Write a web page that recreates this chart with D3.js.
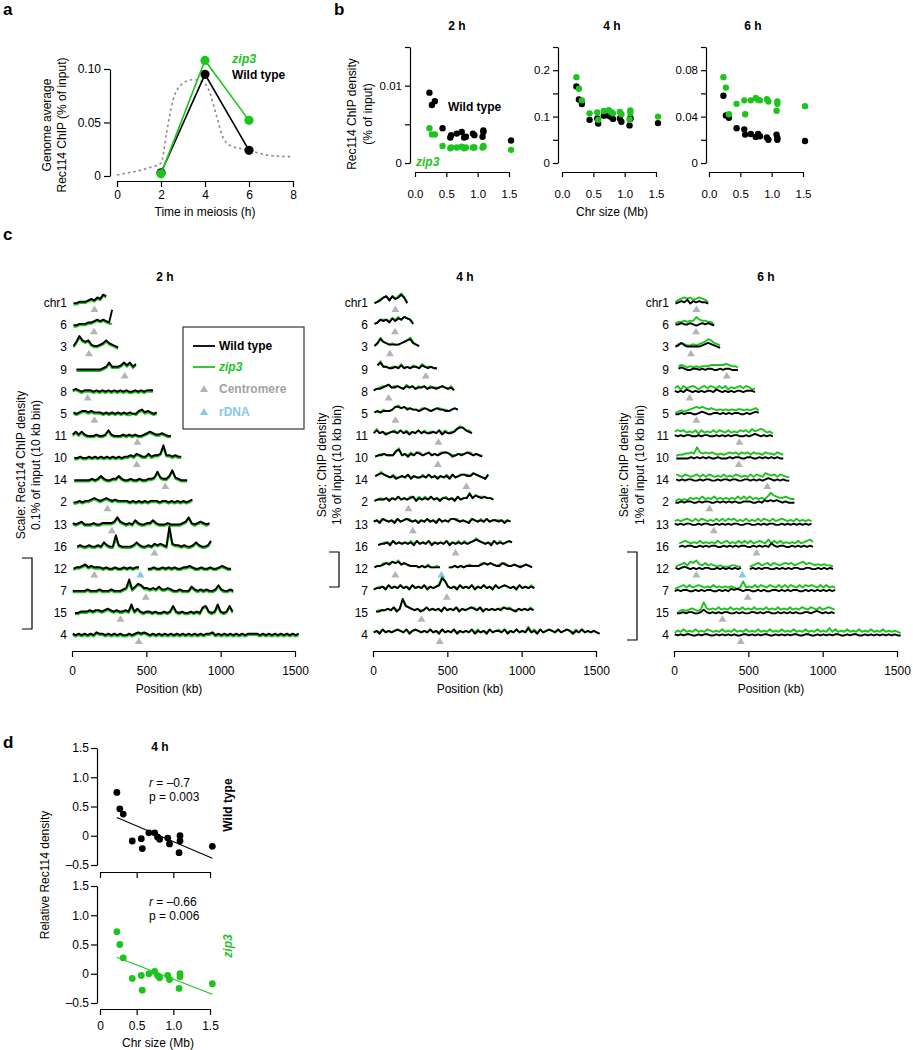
<!DOCTYPE html>
<html><head><meta charset="utf-8">
<script src="https://cdn.jsdelivr.net/npm/d3@7"></script>
<style>body{margin:0;background:#fff}</style>
</head><body>
<svg id="fig" width="913" height="1050"></svg>
<script>
// ---------------- DATA ----------------
// panel a
const timeH = [2, 4, 6];
const aWildType = [0.003, 0.095, 0.024];
const aZip3 = [0.002, 0.108, 0.052];
const aRefT = [0,0.5,1,1.5,2,2.25,2.55,2.9,3.45,3.9,4.2,4.5,4.8,5.1,6,7,8];
const aRefV = [0.001,0.003,0.005,0.008,0.012,0.04,0.071,0.085,0.09,0.088,0.079,0.058,0.037,0.029,0.024,0.019,0.018];
const aTicksX = [0,2,4,6,8];
const aTicksY = [0,0.05,0.10];
const aTickLabelsY = ["0","0.05","0.10"];

// chromosomes (ordered by size)
const chrLabels = ["chr1","6","3","9","8","5","11","10","14","2","13","16","12","7","15","4"];
const chrSizeMb = [0.230,0.270,0.317,0.440,0.563,0.577,0.667,0.746,0.784,0.813,0.924,0.948,1.078,1.091,1.091,1.532];
const centromereKb = [151,148,114,355,105,151,440,436,628,238,268,555,150,496,326,449];
const rdnaChrIndex = 12;
const rdnaKb = 460;
const trackStartKb = [10,10,10,30,5,10,5,15,15,10,5,35,10,5,20,5];
const trackBinKb = 20;

// panel b (% of input)
const b2hWildType = [0.0091,0.0075,0.0080,0.0045,0.0033,0.0036,0.0038,0.0040,0.0033,0.0034,0.0038,0.0036,0.0034,0.0042,0.0040,0.0029];
const b2hZip3 = [0.0045,0.0037,0.0037,0.0022,0.0019,0.0020,0.0020,0.0021,0.0019,0.0020,0.0020,0.0020,0.0020,0.0022,0.0021,0.0017];
const b4hWildType = [0.165,0.137,0.127,0.093,0.096,0.085,0.102,0.102,0.099,0.095,0.096,0.089,0.081,0.095,0.097,0.086];
const b4hZip3 = [0.185,0.160,0.135,0.107,0.109,0.093,0.112,0.114,0.110,0.107,0.110,0.105,0.094,0.113,0.108,0.100];
const b6hWildType = [0.058,0.041,0.039,0.030,0.029,0.0245,0.025,0.0225,0.025,0.023,0.022,0.020,0.0245,0.0217,0.020,0.019];
const b6hZip3 = [0.074,0.065,0.042,0.051,0.054,0.042,0.054,0.056,0.0546,0.054,0.055,0.053,0.045,0.053,0.051,0.049];
const bTicksX = [0,0.5,1.0,1.5];
const bTickLabelsX = ["0.0","0.5","1.0","1.5"];

// panel c tracks: one character per 20 kb bin (base-36 digit = value in units of the panel; "." = no data)
const c2hUnitPct = 0.002, c4hUnitPct = 0.04, c6hUnitPct = 0.014;
const c2hWildType = [
"2233345465 87","2233344565 654d","36a7674334 575432","2222222223 4744457574 6",
"3432333232 3232323232 23232333","3234434333 2323232323 224534323",
"3535322232 2363222323 2322345433 4322","2232232323 2323232334 3543353445 b443433",
"2222223235 3223353223 2232233484 335943222","2232334543 4543433332 3232323332 3323232323 4",
"3234222322 3333474323 2532233532 2232222347 3234323","2322322325 322a322223 5322324343 2g43323223 532236",
"2334534333 2322322323 233..22322 3232322334 3223223223 4322","2222232223 222322234a 3576443435 3343223222 5323232236 32232",
"2233343443 4543433438 3532332322 3237323223 2326732383 2373",
"3232323243 3232323223 2343432323 2323232323 2323233423 2323232323 3332323232 3232323"];
const c2hZip3 = [
"1122234354 76","1122233454 5433","2596563223 464321","1111111112 3633346463 5",
"2321222121 2121212121 12121222","2123323222 1212121211 213423212",
"2424211121 1252111212 1211234322 3211","1121121212 1212121223 2432242334 9332322",
"1111112124 2112242112 1121122373 224832111","1121223432 3432322221 2121212221 2212121212 3",
"2123111211 2222363212 1421122421 1121111236 2123212","1211211214 2117211112 4211213232 1c32212112 421125",
"1223423222 1211211212 122..11211 2121211223 2112112112 3211","1111121112 1112111237 2465332324 2232112111 4212121125 21121",
"1122232332 3432322326 2421221211 2126212112 1215621262 1262",
"2121212132 2121212112 1232321212 1212121212 1212122312 1212121212 2221212121 2121212"];
const c4hWildType = [
"2346747568 62","3465647576 8763","3586544445 678543","5744334353 4344354343 3",
"3445675565 4656455645 54565453","3434445776 7565545654 565544565",
"4645345546 4535464544 5463544578 8654","3445444784 5354654564 5456653454 5654543",
"5676545345 4635445464 5354536456 655765436","3444535464 5456354546 4535545364 5585765655 4",
"4536545364 5654535464 5364546654 5436545464 5545354","3445364545 4536454635 4546354545 4567654536 454565",
"3445657675 6544434343 333..33434 3444445656 5446544543 4543","3445364546 4536454635 456b954536 4546354645 3645654536 45454",
"334454635c 7654534645 4536454635 4565463545 4546554354 5454",
"4536454565 4635654546 4536454635 4546354536 4554635464 5474536456 5464565354 6454543"];
const c4hZip3 = [
"2356747579 63","3466657686 8764","3596545445 679643","5844344363 4354364443 3",
"3456675665 4756465646 55565463","3435445786 7665546654 566554565",
"4745445646 4645464645 5464645579 8664","3455444794 5464664564 5466654455 5664544",
"5686546445 4645446464 5454646456 665765436","3454545464 5466464646 4545645464 5595766655 4",
"4546545464 5664545464 5464546664 5446546464 5555454","3455464545 4646454645 4546454646 4568654546 464565",
"3446667685 6544434353 343..33434 3454446656 5456644544 4543","3455464546 4546454645 457c954546 4546454645 4645654546 45464",
"344454645c 8654544645 4546454645 4566464545 4556564454 5464",
"4546454565 4645654546 4546454645 4546464546 4564645464 5484646456 5464565464 6454543"];
const c6hWildType = [
"2343524343 32","3343343234 3432","3464333334 565432","3432233232 3322323322 2",
"3232432323 2332432323 23323332","2232332234 3223323232 332232343",
"3232332232 3322323232 3322323432 3232","2222232323 2322322232 3322332232 3232322",
"3232332232 3322323323 3223323232 343232322","2232332232 3322323232 3223332232 4343432322 2",
"3232332232 3322323232 3322332232 3233223232 3232323","2323322323 2332232323 2332232323 2532332232 323232",
"3234323232 3322323232 323..23232 3322323232 3322332232 3232","2323322323 2332232324 3432332232 3223323232 3322323232 32323",
"2232332235 3232323322 3232233232 3322323232 3223323432 3232",
"3232332232 3322323232 3223323232 3322323232 3322332232 3232332232 3322323232 3232322"];
const c6hZip3 = [
"3567675676 53","4556566976 6553","3565445456 798654","5654545455 5666667655 4",
"5747567646 7576575746 56757645","3454567878 7676565656 566565675",
"6767565747 5657576575 6576758678 7564","4556676b76 7676565676 7576757665 7665765",
"7657656757 5765657565 7656575765 876757655","3545465657 5657565656 5757575656 57a8766765 5",
"5656765757 6565757576 7565756575 7657567656 5756565","5676565756 5657567565 7575756765 8575756565 756786",
"4567587965 7565454445 544..45675 6757656767 5678676565 6554","4567575676 5657565656 545a565757 6576575757 6575767657 57565",
"245456545b 6565756575 6575657565 7565756575 6576576575 6765",
"4657565756 5765657565 7565756575 6575657565 7565756575 6585756575 6575657565 7565654"];
const cTicksX = [0,500,1000,1500];

// panel d (relative Rec114 density, 4 h)
const dWildType = [0.74,0.46,0.37,-0.09,-0.05,-0.22,0.05,0.05,-0.02,-0.06,-0.04,-0.14,-0.29,0.0,-0.09,-0.18];
const dZip3 = [0.72,0.50,0.27,-0.08,-0.03,-0.28,0.0,0.04,-0.03,-0.07,-0.03,-0.10,-0.25,0.0,-0.05,-0.17];
const dTicksY = [-0.5,0,0.5,1.0,1.5];
const dTickLabelsY = ["\u20130.5","0","0.5","1.0","1.5"];
const dTickLabelsX = ["0","0.5","1.0","1.5"];

// ---------------- DRAWING ----------------
const FONT = "'Liberation Sans', Arial, Helvetica, sans-serif";
const GREEN = "#1ec41e", BLACK = "#000";
const CEN_COL = "#b4b4b4", RDNA_COL = "#86c8ea";
const svg = d3.select("#fig");

function T(x, y, s, o = {}) {
  const t = svg.append("text").attr("x", x).attr("y", y).attr("dy", "0.35em")
    .attr("font-family", FONT).attr("font-size", o.size || 12)
    .attr("text-anchor", o.anchor || "start").attr("fill", o.fill || BLACK);
  if (o.bold) t.attr("font-weight", "bold");
  if (o.italic) t.attr("font-style", "italic");
  if (o.rot) t.attr("transform", `rotate(${o.rot},${x},${y})`);
  t.text(s);
  return t;
}
function styleAxis(g, size) {
  g.attr("font-family", FONT).attr("font-size", size || 12);
  g.selectAll("path.domain").attr("stroke", BLACK).attr("stroke-width", 1.2);
  g.selectAll(".tick line").attr("stroke", BLACK).attr("stroke-width", 1.2);
  g.selectAll(".tick text").attr("fill", BLACK);
}

// panel letters
T(3, 9, "a", {size: 17, bold: true});
T(334, 9, "b", {size: 17, bold: true});
T(3, 234, "c", {size: 17, bold: true});
T(3, 742, "d", {size: 17, bold: true});

// ===== panel a =====
(function () {
  const x = d3.scaleLinear().domain([0, 8]).range([117, 293]);
  const y = d3.scaleLinear().domain([0, 0.1]).range([176, 69]);
  svg.append("g").attr("transform", "translate(0,181)")
    .call(d3.axisBottom(x).tickValues(aTicksX).tickSize(6).tickPadding(3).tickSizeOuter(0).tickFormat(d3.format("d")))
    .call(g => styleAxis(g, 12));
  svg.append("g").attr("transform", "translate(110,0)")
    .call(d3.axisLeft(y).tickValues(aTicksY).tickSize(6).tickPadding(3).tickSizeOuter(0).tickFormat((d, i) => aTickLabelsY[i]))
    .call(g => styleAxis(g, 12));
  const ref = aRefT.map((t, i) => [t, aRefV[i]]);
  svg.append("path").datum(ref)
    .attr("d", d3.line().x(d => x(d[0])).y(d => y(d[1])).curve(d3.curveMonotoneX))
    .attr("fill", "none").attr("stroke", "#8c8c8c").attr("stroke-width", 1.6).attr("stroke-dasharray", "2.5,3");
  [[aWildType, BLACK], [aZip3, GREEN]].forEach(([vals, col]) => {
    const pts = timeH.map((t, i) => [t, vals[i]]);
    svg.append("path").datum(pts).attr("d", d3.line().x(d => x(d[0])).y(d => y(d[1])))
      .attr("fill", "none").attr("stroke", col).attr("stroke-width", 1.6);
    svg.append("g").selectAll("circle").data(pts).join("circle")
      .attr("cx", d => x(d[0])).attr("cy", d => y(d[1])).attr("r", 4.6).attr("fill", col);
  });
  T(232, 59, "zip3", {bold: true, italic: true, fill: GREEN, size: 12.5});
  T(232, 75, "Wild type", {bold: true});
  T(205, 212, "Time in meiosis (h)", {anchor: "middle"});
  T(47, 125, "Genome average", {anchor: "middle", rot: -90});
  T(62, 125, "Rec114 ChIP (% of input)", {anchor: "middle", rot: -90});
})();

// ===== panel b =====
(function () {
  const subs = [
    {title: "2 h", cx: 457, ax: 410, xr: [415, 509], ymax: 0.015, ticks: [0, 0.005, 0.01, 0.015], labels: {"0": "0", "0.01": "0.01"}, wt: b2hWildType, zip: b2hZip3},
    {title: "4 h", cx: 612, ax: 558, xr: [562, 656], ymax: 0.25, ticks: [0, 0.05, 0.1, 0.15, 0.2, 0.25], labels: {"0": "0", "0.1": "0.1", "0.2": "0.2"}, wt: b4hWildType, zip: b4hZip3},
    {title: "6 h", cx: 753, ax: 706, xr: [709, 803], ymax: 0.1, ticks: [0, 0.02, 0.04, 0.06, 0.08, 0.1], labels: {"0": "0", "0.04": "0.04", "0.08": "0.08"}, wt: b6hWildType, zip: b6hZip3}
  ];
  subs.forEach(s => {
    const x = d3.scaleLinear().domain([0, 1.5]).range(s.xr);
    const y = d3.scaleLinear().domain([0, s.ymax]).range([163, 47]);
    svg.append("g").attr("transform", "translate(0,172)")
      .call(d3.axisBottom(x).tickValues(bTicksX).tickSize(5).tickPadding(13).tickSizeOuter(0).tickFormat((d, i) => bTickLabelsX[i]))
      .call(g => styleAxis(g, 11.5));
    svg.append("g").attr("transform", `translate(${s.ax},0)`)
      .call(d3.axisLeft(y).tickValues(s.ticks).tickSize(5).tickPadding(3).tickSizeOuter(0)
        .tickFormat(d => s.labels[String(+d.toFixed(3))] || ""))
      .call(g => styleAxis(g, 11.5));
    T(s.cx, 26, s.title, {anchor: "middle", bold: true});
    [[s.wt, BLACK], [s.zip, GREEN]].forEach(([vals, col]) => {
      svg.append("g").selectAll("circle").data(vals).join("circle")
        .attr("cx", (d, i) => x(chrSizeMb[i])).attr("cy", d => y(d)).attr("r", 3.2).attr("fill", col);
    });
  });
  T(448, 107, "Wild type", {bold: true});
  T(416, 162, "zip3", {bold: true, italic: true, fill: GREEN});
  T(352, 114, "Rec114 ChIP density", {anchor: "middle", rot: -90});
  T(368, 114, "(% of input)", {anchor: "middle", rot: -90});
  T(612, 212, "Chr size (Mb)", {anchor: "middle"});
})();

// ===== panel c =====
(function () {
  const decode = s => s.replace(/\s/g, "").split("").map(c => c === "." ? null : parseInt(c, 36));
  const panels = [
    {title: "2 h", tx: 165, x0: 72, wt: c2hWildType, zip: c2hZip3, unit: c2hUnitPct, scalePct: 0.1, barPx: 71, barBottom: 629, barX: 32,
     labX: [21, 36], lab: ["Scale: Rec114 ChIP density", "0.1% of input (10 kb bin)"]},
    {title: "4 h", tx: 465, x0: 373, wt: c4hWildType, zip: c4hZip3, unit: c4hUnitPct, scalePct: 1, barPx: 35, barBottom: 587, barX: 339,
     labX: [322, 337], lab: ["Scale: ChIP density", "1% of input (10 kb bin)"]},
    {title: "6 h", tx: 766, x0: 674, wt: c6hWildType, zip: c6hZip3, unit: c6hUnitPct, scalePct: 1, barPx: 88, barBottom: 640, barX: 637,
     labX: [624, 640], lab: ["Scale: ChIP density", "1% of input (10 kb bin)"]}
  ];
  const rowY = k => 303 + k * 22.13;
  panels.forEach(p => {
    const x = d3.scaleLinear().domain([0, 1500]).range([p.x0, p.x0 + 223]);
    const h = d3.scaleLinear().domain([0, p.scalePct]).range([0, p.barPx]);
    T(p.tx, 277, p.title, {anchor: "middle", bold: true});
    svg.append("g").attr("transform", "translate(0,651)")
      .call(d3.axisBottom(x).tickValues(cTicksX).tickSize(6).tickPadding(9).tickSizeOuter(0).tickFormat(d3.format("d")))
      .call(g => styleAxis(g, 12));
    T(p.x0 + 97, 689, "Position (kb)", {anchor: "middle"});
    // scale bracket
    const bb = p.barBottom, bt = p.barBottom - h(p.scalePct);
    svg.append("path").attr("d", `M${p.barX - 10},${bt}H${p.barX}V${bb}H${p.barX - 10}`)
      .attr("fill", "none").attr("stroke", BLACK).attr("stroke-width", 1.2);
    p.lab.forEach((s, i) => T(p.labX[i], 465, s, {anchor: "middle", rot: -90}));
    chrLabels.forEach((name, k) => {
      const y0 = rowY(k);
      T(p.x0 - 5, y0, name, {anchor: "end"});
      const line = d3.line().defined(d => d.v !== null)
        .x(d => x(d.kb)).y(d => y0 + 3 - h(d.v * p.unit)).curve(d3.curveLinear);
      [[p.zip[k], GREEN], [p.wt[k], BLACK]].forEach(([str, col]) => {
        const pts = decode(str).map((v, i) => ({kb: trackStartKb[k] + i * trackBinKb, v}));
        svg.append("path").datum(pts).attr("d", line).attr("fill", "none")
          .attr("stroke", col).attr("stroke-width", 1.9).attr("stroke-linejoin", "round");
      });
      const tri = (cx, cy, col) => svg.append("path")
        .attr("d", `M${cx - 4},${cy + 3}L${cx + 4},${cy + 3}L${cx},${cy - 3.5}Z`).attr("fill", col);
      tri(x(centromereKb[k]), y0 + 6, CEN_COL);
      if (k === rdnaChrIndex) tri(x(rdnaKb), y0 + 6, RDNA_COL);
    });
  });
  // legend
  svg.append("rect").attr("x", 183).attr("y", 327).attr("width", 121).attr("height", 102)
    .attr("fill", "#fff").attr("stroke", "#444").attr("stroke-width", 1.3);
  svg.append("line").attr("x1", 193).attr("x2", 215).attr("y1", 346).attr("y2", 346).attr("stroke", BLACK).attr("stroke-width", 1.8);
  svg.append("line").attr("x1", 193).attr("x2", 215).attr("y1", 367).attr("y2", 367).attr("stroke", GREEN).attr("stroke-width", 1.8);
  svg.append("path").attr("d", "M200,392L208,392L204,385Z").attr("fill", CEN_COL);
  svg.append("path").attr("d", "M200,415L208,415L204,408Z").attr("fill", RDNA_COL);
  T(219, 346, "Wild type", {bold: true});
  T(219, 367, "zip3", {bold: true, italic: true, fill: GREEN});
  T(219, 389, "Centromere", {bold: true, fill: "#a3a3a3"});
  T(219, 412, "rDNA", {bold: true, fill: RDNA_COL});
})();

// ===== panel d =====
(function () {
  const x = d3.scaleLinear().domain([0, 1.5]).range([100, 210]);
  const subs = [
    {yr: [865, 748], axY: 872, vals: dWildType, col: BLACK, showX: false, r: "\u20130.7", pv: "0.003", ty: 783,
     lab: "Wild type", labY: 805, labOpts: {bold: true}},
    {yr: [1003, 886], axY: 1009, vals: dZip3, col: GREEN, showX: true, r: "\u20130.66", pv: "0.006", ty: 902,
     lab: "zip3", labY: 946, labOpts: {bold: true, italic: true, fill: GREEN}}
  ];
  subs.forEach(s => {
    const y = d3.scaleLinear().domain([-0.5, 1.5]).range(s.yr);
    svg.append("g").attr("transform", `translate(0,${s.axY})`)
      .call(d3.axisBottom(x).tickValues([0, 0.5, 1.0, 1.5]).tickSize(6).tickPadding(6.5).tickSizeOuter(0)
        .tickFormat((d, i) => s.showX ? dTickLabelsX[i] : ""))
      .call(g => styleAxis(g, 12));
    svg.append("g").attr("transform", "translate(97,0)")
      .call(d3.axisLeft(y).tickValues(dTicksY).tickSize(6).tickPadding(2).tickSizeOuter(0).tickFormat((d, i) => dTickLabelsY[i]))
      .call(g => styleAxis(g, 12));
    // least-squares regression line
    const xs = chrSizeMb, ys = s.vals;
    const mx = d3.mean(xs), my = d3.mean(ys);
    const slope = d3.sum(xs, (v, i) => (v - mx) * (ys[i] - my)) / d3.sum(xs, v => (v - mx) * (v - mx));
    const [x1, x2] = d3.extent(xs);
    svg.append("line").attr("x1", x(x1)).attr("x2", x(x2))
      .attr("y1", y(my + slope * (x1 - mx))).attr("y2", y(my + slope * (x2 - mx)))
      .attr("stroke", s.col).attr("stroke-width", 1.1);
    svg.append("g").selectAll("circle").data(s.vals).join("circle")
      .attr("cx", (d, i) => x(chrSizeMb[i])).attr("cy", d => y(d)).attr("r", 3.4).attr("fill", s.col);
    const t1 = T(149, s.ty, "", {});
    t1.append("tspan").attr("font-style", "italic").text("r");
    t1.append("tspan").text(" = " + s.r);
    T(149, s.ty + 14, "p = " + s.pv);
    T(228, s.labY, s.lab, Object.assign({anchor: "middle", rot: -90}, s.labOpts));
  });
  T(160, 747, "4 h", {anchor: "middle", bold: true});
  T(158, 1043, "Chr size (Mb)", {anchor: "middle"});
  T(45, 875, "Relative Rec114 density", {anchor: "middle", rot: -90});
})();
</script>
</body></html>
